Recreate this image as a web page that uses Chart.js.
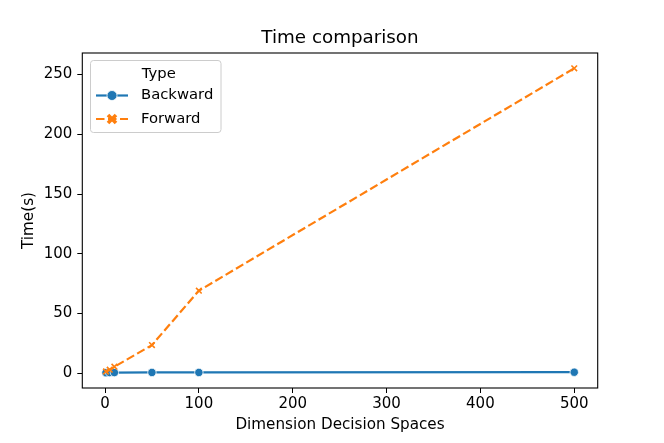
<!DOCTYPE html>
<html>
<head>
<meta charset="utf-8">
<script src="https://cdn.jsdelivr.net/npm/chart.js@4/dist/chart.umd.min.js"></script>
<style>
  html,body{margin:0;padding:0;background:#fff;}
  #c{display:block;}
</style>
</head>
<body>
<canvas id="c" width="664" height="443" style="width:664px;height:443px"></canvas>
<script>
/* ---- data ---- */
const dims = [1, 5, 10, 50, 100, 500];
const backwardTimes = [0.5, 0.6, 0.6, 0.7, 0.7, 0.9];
const forwardTimes  = [1.5, 3.0, 5.5, 23.6, 69.1, 255.2];
const xTicks = [0, 100, 200, 300, 400, 500];
const yTicks = [0, 50, 100, 150, 200, 250];
const seriesNames = ['Backward', 'Forward'];
const legendTitle = 'Type';
const chartTitle = 'Time comparison';

const BLUE = '#1f77b4', ORANGE = '#ff7f0e';
const FONT = "'DejaVu Sans', sans-serif";

// title centred over the axes box (not the whole canvas)
const titlePlugin = {
  id:'axTitle',
  afterDraw(chart){
    const {ctx, chartArea:a} = chart;
    ctx.save();
    ctx.fillStyle = '#000';
    ctx.font = '18.3px ' + FONT;
    ctx.textAlign = 'center'; ctx.textBaseline = 'middle';
    ctx.fillText(chartTitle, (a.left + a.right)/2, 38);
    ctx.restore();
  }
};

// frame (all four spines like matplotlib)
const framePlugin = {
  id:'frame',
  afterDatasetsDraw(chart){
    const {ctx, chartArea:a} = chart;
    ctx.save();
    ctx.strokeStyle = '#000'; ctx.lineWidth = 1.1;
    ctx.strokeRect(a.left, a.top, a.right-a.left, a.bottom-a.top);
    ctx.restore();
  }
};

// matplotlib-ish legend box in the upper left
function drawX(ctx, x, y, r, lw, color){
  ctx.save();
  ctx.strokeStyle = color; ctx.lineWidth = lw; ctx.lineCap = 'butt';
  ctx.beginPath();
  ctx.moveTo(x-r, y-r); ctx.lineTo(x+r, y+r);
  ctx.moveTo(x+r, y-r); ctx.lineTo(x-r, y+r);
  ctx.stroke();
  ctx.restore();
}
const legendPlugin = {
  id:'boxLegend',
  afterDraw(chart){
    const {ctx} = chart;
    const x0 = 90.5, y0 = 60.5, w = 130.5, h = 72;
    ctx.save();
    ctx.fillStyle = 'rgba(255,255,255,0.8)';
    ctx.strokeStyle = '#cccccc'; ctx.lineWidth = 1;
    ctx.beginPath();
    ctx.roundRect(x0, y0, w, h, 3);
    ctx.fill(); ctx.stroke();

    ctx.fillStyle = '#000';
    ctx.font = '14.8px ' + FONT;
    ctx.textBaseline = 'middle';
    ctx.textAlign = 'center';
    ctx.fillText(legendTitle, x0 + w/2 + 3, 74);

    ctx.textAlign = 'left';
    const rows = [95.5, 119];
    chart.data.datasets.forEach((ds, i) => {
      const y = rows[i];
      ctx.save();
      ctx.strokeStyle = ds.borderColor; ctx.lineWidth = 2.2;
      ctx.setLineDash(ds.borderDash || []);
      ctx.beginPath(); ctx.moveTo(96, y); ctx.lineTo(128, y); ctx.stroke();
      ctx.restore();
      if(i === 0){
        ctx.beginPath(); ctx.arc(112, y, 5, 0, Math.PI*2);
        ctx.fillStyle = BLUE; ctx.fill();
        ctx.strokeStyle = '#fff'; ctx.lineWidth = 0.8; ctx.stroke();
      } else {
        drawX(ctx, 112, y, 4, 3.6, ORANGE);
      }
      ctx.fillStyle = '#000';
      ctx.fillText(seriesNames[i], 141, y);
    });
    ctx.restore();
  }
};

const tickCfg = (size)=>({color:'#000', font:{family:FONT, size:size}});

new Chart(document.getElementById('c'), {
  type:'line',
  data:{
    datasets:[
      {
        label: seriesNames[0],
        data: dims.map((d,i)=>({x:d, y:backwardTimes[i]})),
        borderColor: BLUE, backgroundColor: BLUE,
        borderWidth: 2.2,
        pointStyle:'circle', pointRadius:4.2, pointBorderColor:'#fff', pointBorderWidth:0.8,
        pointBackgroundColor: BLUE,
        order: 2
      },
      {
        label: seriesNames[1],
        data: dims.map((d,i)=>({x:d, y:forwardTimes[i]})),
        borderColor: ORANGE, backgroundColor: ORANGE,
        borderWidth: 2.2, borderDash:[8.5,3.5],
        pointStyle:'crossRot', pointRadius:4, pointBorderColor: ORANGE, pointBorderWidth:1.6,
        order: 1
      }
    ]
  },
  options:{
    responsive:false,
    animation:false,
    layout:{padding:{left:0, right:66.3, top:53, bottom:0}},
    plugins:{
      legend:{display:false},
      tooltip:{enabled:false},
      title:{display:false}
    },
    scales:{
      x:{
        type:'linear', min:-24.2, max:525,
        afterBuildTicks(s){ s.ticks = xTicks.map(v=>({value:v})); },
        afterFit(s){ s.height = 55; },
        ticks:{...tickCfg(15), padding:2, maxRotation:0},
        grid:{drawOnChartArea:false, drawTicks:true, tickLength:5, color:'#000', lineWidth:1},
        border:{display:false},
        title:{display:true, text:'Dimension Decision Spaces', color:'#000',
               font:{family:FONT, size:15.2}, padding:{top:0, bottom:8.9}}
      },
      y:{
        type:'linear', min:-12.3, max:268,
        afterBuildTicks(s){ s.ticks = yTicks.map(v=>({value:v})); },
        afterFit(s){ s.width = 82.3; },
        ticks:{...tickCfg(15), padding:5},
        grid:{drawOnChartArea:false, drawTicks:true, tickLength:5, color:'#000', lineWidth:1},
        border:{display:false},
        title:{display:true, text:'Time(s)', color:'#000',
               font:{family:FONT, size:15.2}, padding:{top:20.4, bottom:0}}
      }
    }
  },
  plugins:[framePlugin, legendPlugin, titlePlugin]
});
</script>
</body>
</html>
